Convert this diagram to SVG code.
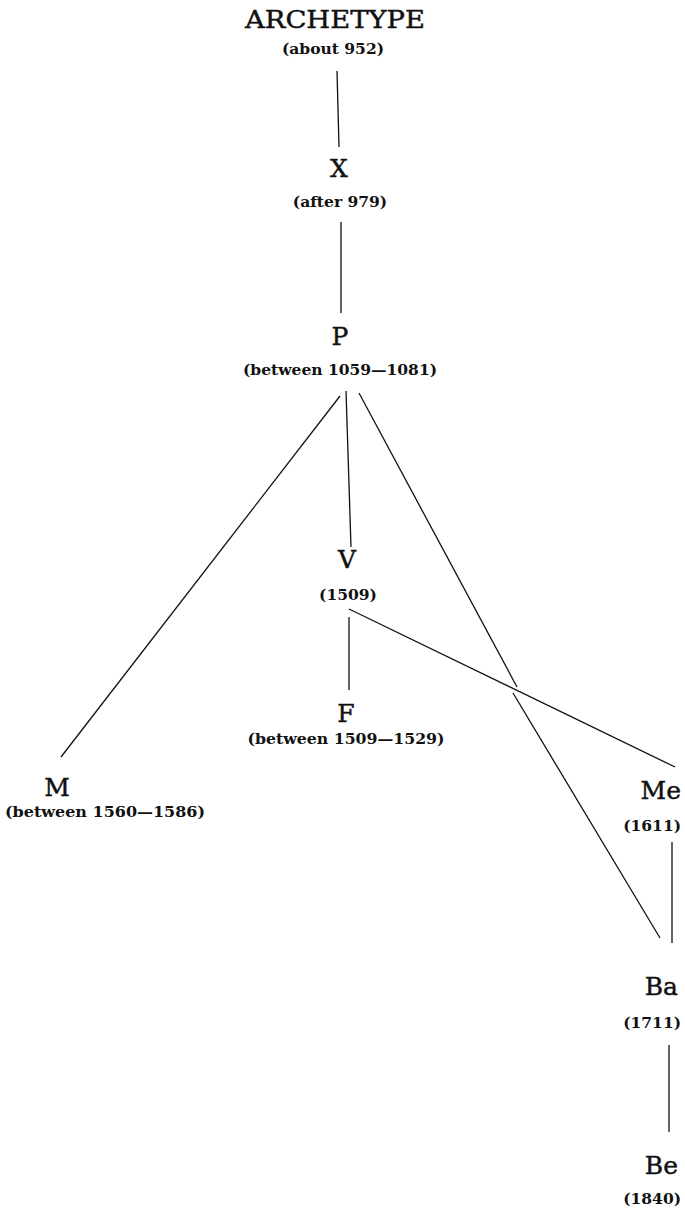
<svg xmlns="http://www.w3.org/2000/svg" width="685" height="1219" viewBox="0 0 685 1219">
<style>
.name{font-family:"DejaVu Serif","Liberation Serif",serif;font-size:25px;fill:#111;stroke:#111;stroke-width:0.45;}
.date{font-family:"DejaVu Serif","Liberation Serif",serif;font-weight:bold;font-size:15.5px;fill:#111;}
.c{text-anchor:middle;}
.r{text-anchor:end;}
#connectors line{stroke:#111;stroke-width:1.3;fill:none;}
</style>
<rect width="685" height="1219" fill="#fff"/>
<g id="connectors">
<line x1="337" y1="71" x2="339" y2="147"/>
<line x1="341" y1="222" x2="341" y2="313"/>
<line x1="340" y1="396" x2="61" y2="757"/>
<line x1="346" y1="391" x2="351" y2="547"/>
<line x1="359" y1="393" x2="517" y2="687"/>
<line x1="513" y1="693" x2="660" y2="938"/>
<line x1="349" y1="617" x2="349" y2="690"/>
<line x1="349" y1="609" x2="675" y2="767"/>
<line x1="672" y1="842" x2="672" y2="943"/>
<line x1="669" y1="1045" x2="669" y2="1132"/>
</g>
<g id="archetype">
<text class="name c" x="335" y="28" textLength="180" lengthAdjust="spacingAndGlyphs">ARCHETYPE</text>
<text class="date c" x="333" y="54">(about 952)</text>
</g>
<g id="X">
<text class="name c" x="339" y="177">X</text>
<text class="date c" x="340" y="207">(after 979)</text>
</g>
<g id="P">
<text class="name c" x="340" y="345">P</text>
<text class="date c" x="340" y="375" textLength="194" lengthAdjust="spacingAndGlyphs">(between 1059—1081)</text>
</g>
<g id="V">
<text class="name c" x="347" y="568">V</text>
<text class="date c" x="348" y="600">(1509)</text>
</g>
<g id="F">
<text class="name c" x="346" y="722">F</text>
<text class="date c" x="346" y="744" textLength="197" lengthAdjust="spacingAndGlyphs">(between 1509—1529)</text>
</g>
<g id="M">
<text class="name c" x="57" y="796">M</text>
<text class="date c" x="105" y="817" textLength="200" lengthAdjust="spacingAndGlyphs">(between 1560—1586)</text>
</g>
<g id="Me">
<text class="name r" x="681" y="799">Me</text>
<text class="date r" x="681" y="831">(1611)</text>
</g>
<g id="Ba">
<text class="name r" x="678" y="995">Ba</text>
<text class="date r" x="681" y="1028">(1711)</text>
</g>
<g id="Be">
<text class="name r" x="678" y="1174">Be</text>
<text class="date r" x="681" y="1204">(1840)</text>
</g>
</svg>
